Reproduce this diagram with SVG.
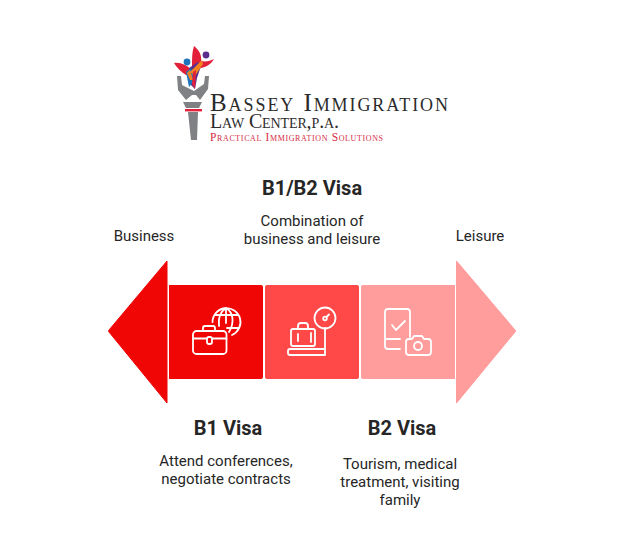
<svg xmlns="http://www.w3.org/2000/svg" width="624" height="544" viewBox="0 0 624 544">
<style>
.h{font:700 20px Roboto,sans-serif;fill:#262626;text-anchor:middle}
.b{font:400 15px Roboto,sans-serif;fill:#262626;text-anchor:middle}
.i{fill:none;stroke:#fff;stroke-width:1.8;stroke-linecap:round;stroke-linejoin:round}
.lg{font-family:"Liberation Serif",serif;fill:#2b2b2b;font-variant:small-caps}
</style>
<rect width="624" height="544" fill="#fff"/>
<g id="logo">
<path d="M177 76 L181 76 L182 85 L194 91 L204 84 L205 76 L209 76 L208 89 L200 100 L196 95 L192 95 L186 100 L178 90Z" fill="#808184"/>
<path d="M183 102 H202 L199 108 H186Z" fill="#808184"/>
<rect x="185" y="109" width="17" height="2.400" fill="#e2203a"/>
<path d="M188 112 H198 L197 140 H191Z" fill="#808184"/>
<path d="M174 63 C181 62 187 66 191 69 L194 76 L186 75 C181 72 177 68 174 63Z" fill="#e2203a"/>
<path d="M194 46 C199 50 202 55 201 61 C206 62 210 61 214 59 C211 65 204 68 197 69 L192 66 C192 58 192 52 194 46Z" fill="#e2203a"/>
<path d="M189 68 L198 62 L201 66 L197 78 L195 89 L190 84Z" fill="#5b2d8e"/>
<path d="M186 72 L191 68 L195 80 L189 87Z" fill="#1c75bc"/>
<path d="M190 72 L202 60 L203 64 L195 76Z" fill="#f58220"/>
<path d="M187 73 L190 70 L193 80 L190 80Z" fill="#f58220"/>
<path d="M193 72 L196 70 L195 89 L192 84Z" fill="#e2203a"/>
<circle cx="187" cy="62" r="3.400" fill="#1c75bc"/>
<circle cx="206" cy="55" r="3.400" fill="#5b2d8e"/>
<text class="lg" x="210" y="111" font-size="25" textLength="238" lengthAdjust="spacing">Bassey Immigration</text>
<text class="lg" x="210" y="128" font-size="20" textLength="129" lengthAdjust="spacing">Law Center,p.a.</text>
<text class="lg" x="210" y="141" font-size="11.500" textLength="173" lengthAdjust="spacing" style="fill:#d62b45">Practical Immigration Solutions</text>
</g>
<g id="title-b1b2"><text class="h" x="312" y="195">B1/B2 Visa</text></g>
<g id="desc-b1b2"><text class="b" x="312" y="226">Combination of</text><text class="b" x="312" y="244">business and leisure</text></g>
<g id="label-business"><text class="b" x="144" y="241">Business</text></g>
<g id="label-leisure"><text class="b" x="480" y="241">Leisure</text></g>
<g id="arrow-left"><path d="M167 261 V403 L109 332 Q108 331 109 330Z" fill="#f10606" stroke="#f10606" stroke-linejoin="round"/></g>
<g id="node-b1">
<path d="M169 285 H261 Q263 285 263 287 V377 Q263 379 261 379 H169Z" fill="#f10606"/>
<g class="i">
<rect x="193" y="331" width="33.500" height="23" rx="3.500"/>
<path d="M193 338.500 H207 M212 338.500 H226.500 M203 331 V328 Q203 326 205 326 H213 Q215 326 215 328 V331"/>
<rect x="207" y="337" width="5" height="7" rx="2"/>
<path d="M212.500 322 A14 14 0 1 1 232 335 M226 308 C220 312 218 318 219 326 M226 308 C233 312 235 322 229 332 M226 308 V323 M215 315 H238 M227 328 H238"/>
</g>
</g>
<g id="node-b1b2">
<rect x="265" y="285" width="94" height="94" rx="2" fill="#ff4848"/>
<g class="i">
<rect x="291" y="329" width="24" height="17" rx="2"/>
<path d="M298 329 V326 Q298 323 301 323 H305 Q308 323 308 326 V329 M298 334 V341 M311 333 V342"/>
<path d="M325 328 V355 H290 Q288 355 288 353 V351 Q288 349 290 349 H325"/>
<circle cx="325" cy="318" r="10.500"/>
<circle cx="325" cy="318.500" r="1.800"/>
<path d="M326.500 317 L329 314.500"/>
</g>
</g>
<g id="node-b2">
<path d="M363 285 H455 V379 H363 Q361 379 361 377 V287 Q361 285 363 285Z" fill="#ff9c9c"/>
<g class="i">
<path d="M410 337 V312 Q410 309 407 309 H388 Q385 309 385 312 V346 Q385 349 388 349 H400 M385 339 H400"/>
<path d="M392 325 L396 330 L405 321"/>
<path d="M409 355 Q406 355 406 352 V342 Q406 339 409 339 H412 L414 336 H422 L424 339 H428 Q431 339 431 342 V352 Q431 355 428 355Z"/>
<circle cx="418" cy="346" r="4"/>
</g>
</g>
<g id="arrow-right"><path d="M456.500 261 V403 L515 332 Q516 331 515 330Z" fill="#ff9c9c" stroke="#ff9c9c" stroke-linejoin="round"/></g>
<g id="title-b1"><text class="h" x="228" y="435">B1 Visa</text></g>
<g id="desc-b1"><text class="b" x="226" y="466">Attend conferences,</text><text class="b" x="226" y="484">negotiate contracts</text></g>
<g id="title-b2"><text class="h" x="402" y="435">B2 Visa</text></g>
<g id="desc-b2"><text class="b" x="400" y="469">Tourism, medical</text><text class="b" x="400" y="487">treatment, visiting</text><text class="b" x="400" y="505">family</text></g>
</svg>
